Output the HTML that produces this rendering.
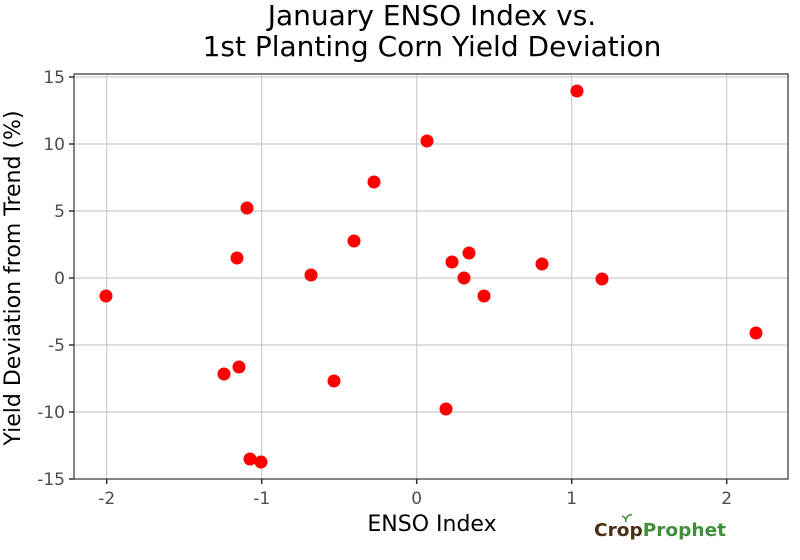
<!DOCTYPE html>
<html><head><meta charset="utf-8"><style>body{margin:0;background:#fff}svg{display:block}</style></head><body>
<svg width="800" height="560" xmlns="http://www.w3.org/2000/svg" font-family="DejaVu Sans, Liberation Sans, sans-serif">
<rect width="800" height="560" fill="#fff"/>
<g stroke="#cccccc" stroke-width="1.2">
<line x1="74" x2="788" y1="77" y2="77"/><line x1="74" x2="788" y1="144" y2="144"/><line x1="74" x2="788" y1="211" y2="211"/><line x1="74" x2="788" y1="278" y2="278"/><line x1="74" x2="788" y1="345" y2="345"/><line x1="74" x2="788" y1="412" y2="412"/>
<line y1="74" y2="479" x1="106.7" x2="106.7"/><line y1="74" y2="479" x1="261.7" x2="261.7"/><line y1="74" y2="479" x1="416.7" x2="416.7"/><line y1="74" y2="479" x1="571.7" x2="571.7"/><line y1="74" y2="479" x1="726.7" x2="726.7"/>
</g>
<rect x="74" y="74" width="714" height="405" fill="none" stroke="#333" stroke-width="1.2"/>
<g stroke="#333" stroke-width="1.5">
<line x1="69" x2="74" y1="77" y2="77"/><line x1="69" x2="74" y1="144" y2="144"/><line x1="69" x2="74" y1="211" y2="211"/><line x1="69" x2="74" y1="278" y2="278"/><line x1="69" x2="74" y1="345" y2="345"/><line x1="69" x2="74" y1="412" y2="412"/><line x1="69" x2="74" y1="479" y2="479"/>
<line y1="479" y2="484" x1="106.7" x2="106.7"/><line y1="479" y2="484" x1="261.7" x2="261.7"/><line y1="479" y2="484" x1="416.7" x2="416.7"/><line y1="479" y2="484" x1="571.7" x2="571.7"/><line y1="479" y2="484" x1="726.7" x2="726.7"/>
</g>
<g fill="#4d4d4d" font-size="17" text-anchor="end">
<text x="65" y="83">15</text><text x="65" y="150">10</text><text x="65" y="217">5</text><text x="65" y="284">0</text><text x="65" y="351">-5</text><text x="65" y="418">-10</text><text x="65" y="485">-15</text>
</g>
<g fill="#4d4d4d" font-size="17" text-anchor="middle">
<text x="106.7" y="504">-2</text><text x="261.7" y="504">-1</text><text x="416.7" y="504">0</text><text x="571.7" y="504">1</text><text x="726.7" y="504">2</text>
</g>
<text x="432" y="531" font-size="22" text-anchor="middle" fill="#000">ENSO Index</text>
<text transform="translate(20,278) rotate(-90)" font-size="22" text-anchor="middle" fill="#000">Yield Deviation from Trend (%)</text>
<text x="432" y="25" font-size="28" text-anchor="middle" fill="#000">January ENSO Index vs.</text>
<text x="432" y="56" font-size="28" text-anchor="middle" fill="#000">1st Planting Corn Yield Deviation</text>
<g fill="#ff0000">
<circle cx="106" cy="296" r="6.5"/><circle cx="224" cy="374" r="6.5"/><circle cx="239" cy="367" r="6.5"/><circle cx="237" cy="258" r="6.5"/><circle cx="247" cy="208" r="6.5"/><circle cx="250" cy="459" r="6.5"/><circle cx="261" cy="462" r="6.5"/><circle cx="311" cy="275" r="6.5"/><circle cx="334" cy="381" r="6.5"/><circle cx="354" cy="241" r="6.5"/><circle cx="374" cy="182" r="6.5"/><circle cx="427" cy="141" r="6.5"/><circle cx="446" cy="409" r="6.5"/><circle cx="452" cy="262" r="6.5"/><circle cx="464" cy="278" r="6.5"/><circle cx="469" cy="253" r="6.5"/><circle cx="484" cy="296" r="6.5"/><circle cx="542" cy="264" r="6.5"/><circle cx="577" cy="91" r="6.5"/><circle cx="602" cy="279" r="6.5"/><circle cx="756" cy="333" r="6.5"/>
</g>
<text x="594" y="536" font-size="18" font-weight="bold" fill="#4a2e12" textLength="132" lengthAdjust="spacingAndGlyphs">Crop<tspan fill="#3f8f3a">Prophet</tspan></text>
<path d="M626 522 q0 -5 -4 -6 M626 519 q2 -5 6 -4" stroke="#3f8f3a" stroke-width="1.5" fill="none"/>
</svg>
</body></html>
